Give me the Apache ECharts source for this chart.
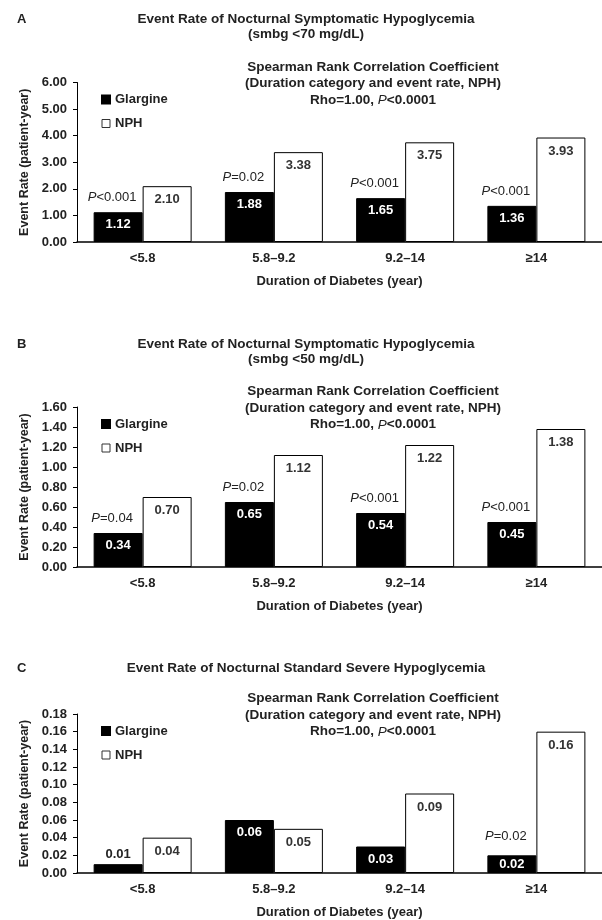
<!DOCTYPE html>
<html>
<head>
<meta charset="utf-8">
<title>Nocturnal hypoglycemia event rates by duration of diabetes</title>
<script src="https://cdn.jsdelivr.net/npm/echarts@6/dist/echarts.min.js"></script>
<style>
  html, body { margin: 0; padding: 0; background: #fff; }
  #chart { width: 602px; height: 920px; }
</style>
</head>
<body>
<div id="chart"></div>
<script>
// Duration-of-diabetes categories (years)
const categories = ['<5.8', '5.8–9.2', '9.2–14', '≥14'];

// Panel A: symptomatic, SMBG < 70 mg/dL (events per patient-year)
const glargineA = [1.12, 1.88, 1.65, 1.36];
const nphA = [2.10, 3.38, 3.75, 3.93];
const pValuesA = ['<0.001', '=0.02', '<0.001', '<0.001'];
const yTicksA = [0, 1, 2, 3, 4, 5, 6];

// Panel B: symptomatic, SMBG < 50 mg/dL
const glargineB = [0.34, 0.65, 0.54, 0.45];
const nphB = [0.70, 1.12, 1.22, 1.38];
const pValuesB = ['=0.04', '=0.02', '<0.001', '<0.001'];
const yTicksB = [0, 0.2, 0.4, 0.6, 0.8, 1.0, 1.2, 1.4, 1.6];

// Panel C: standard severe
const glargineC = [0.01, 0.06, 0.03, 0.02];
const nphC = [0.04, 0.05, 0.09, 0.16];
const pValuesC = [null, null, null, '=0.02'];
const yTicksC = [0, 0.02, 0.04, 0.06, 0.08, 0.10, 0.12, 0.14, 0.16, 0.18];

const FONT = 'Liberation Sans, Arial, Helvetica, sans-serif';
const spearmanText = 'Spearman Rank Correlation Coefficient\n(Duration category and event rate, NPH)\nRho=1.00, {i|P}<0.0001';

const panels = [
  { letter: 'A', title: 'Event Rate of Nocturnal Symptomatic Hypoglycemia\n(smbg <70 mg/dL)',
    top: 82.5, height: 159.5, glargine: glargineA, nph: nphA, p: pValuesA, ticks: yTicksA,
    titleTop: 12, glargineLabelPos: {}, pDistance: 8 },
  { letter: 'B', title: 'Event Rate of Nocturnal Symptomatic Hypoglycemia\n(smbg <50 mg/dL)',
    top: 407, height: 160, glargine: glargineB, nph: nphB, p: pValuesB, ticks: yTicksB,
    titleTop: 337, glargineLabelPos: {}, pDistance: 8 },
  { letter: 'C', title: 'Event Rate of Nocturnal Standard Severe Hypoglycemia',
    top: 714, height: 160, glargine: glargineC, nph: nphC, p: pValuesC, ticks: yTicksC,
    titleTop: 661, glargineLabelPos: { 0: 'top', 3: 'inside' }, pDistance: 12 }
];

const titles = [];
const grids = [];
const xAxes = [];
const yAxes = [];
const legends = [];
const series = [];

panels.forEach((pn, i) => {
  titles.push({
    text: pn.letter, left: 17, top: pn.titleTop, padding: 0,
    textStyle: { fontFamily: FONT, fontSize: 13, fontWeight: 'bold', color: '#222', lineHeight: 15 }
  });
  titles.push({
    text: pn.title, left: 306, top: pn.titleTop, padding: 0, textAlign: 'center',
    textStyle: { fontFamily: FONT, fontSize: 13.5, fontWeight: 'bold', color: '#222', lineHeight: 15 }
  });
  titles.push({
    text: spearmanText, left: 373, top: pn.top - 23.5, padding: 0, textAlign: 'center',
    textStyle: {
      fontFamily: FONT, fontSize: 13.5, fontWeight: 'bold', color: '#222', lineHeight: 16.5,
      rich: { i: { fontFamily: FONT, fontSize: 13.5, fontStyle: 'italic', fontWeight: 'normal', color: '#222', lineHeight: 16.5 } }
    }
  });

  grids.push({ left: 77, top: pn.top, width: 528, height: pn.height });

  xAxes.push({
    type: 'category', gridIndex: i, data: categories,
    axisLine: { lineStyle: { color: '#000', width: 1.5 } },
    axisTick: { show: false },
    axisLabel: { color: '#222', fontFamily: FONT, fontSize: 13, fontWeight: 'bold', margin: 9.5 },
    name: 'Duration of Diabetes (year)', nameLocation: 'middle', nameGap: 33,
    nameTextStyle: { color: '#222', fontFamily: FONT, fontSize: 13, fontWeight: 'bold' }
  });

  const t = pn.ticks;
  yAxes.push({
    type: 'value', gridIndex: i, min: t[0], max: t[t.length - 1], interval: t[1] - t[0],
    splitLine: { show: false },
    axisLine: { show: true, lineStyle: { color: '#000', width: 1 } },
    axisTick: { show: true, length: 4, lineStyle: { color: '#000' } },
    axisLabel: { color: '#222', fontFamily: FONT, fontSize: 13, fontWeight: 'bold', margin: 10,
      formatter: v => v.toFixed(2) },
    name: 'Event Rate (patient-year)', nameLocation: 'middle', nameGap: 39,
    nameTextStyle: { color: '#222', fontFamily: FONT, fontSize: 12.5, fontWeight: 'bold' }
  });

  legends.push({
    data: [
      { name: 'Glargine' },
      { name: 'NPH', itemStyle: { color: '#fff', borderColor: '#333', borderWidth: 1 } }
    ],
    orient: 'vertical', left: 101, top: pn.top + 10,
    itemWidth: 8, itemHeight: 8, itemGap: 10, padding: 0, selectedMode: false,
    icon: 'rect',
    textStyle: { color: '#222', fontFamily: FONT, fontSize: 13, fontWeight: 'bold', lineHeight: 14 }
  });

  series.push({
    name: 'Glargine', type: 'bar', xAxisIndex: i, yAxisIndex: i, stack: 'glargine' + i,
    barWidth: 49, barGap: '0%',
    itemStyle: { color: '#000', borderColor: '#000', borderWidth: 1 },
    label: {
      show: true, position: 'insideTop', distance: 6, color: '#fff',
      fontFamily: FONT, fontSize: 13, fontWeight: 'bold', formatter: d => d.value.toFixed(2)
    },
    data: pn.glargine.map((v, k) => {
      const pos = pn.glargineLabelPos[k];
      if (!pos) return v;
      return { value: v, label: { position: pos, distance: 3, color: pos === 'top' ? '#222' : '#fff' } };
    })
  });

  // zero-height carrier stacked on the glargine bar: holds the P-value text above it
  series.push({
    name: 'P value', type: 'bar', xAxisIndex: i, yAxisIndex: i, stack: 'glargine' + i,
    barWidth: 49, barGap: '0%', silent: true,
    itemStyle: { color: 'rgba(0,0,0,0)' },
    label: {
      show: true, position: 'top', distance: pn.pDistance, offset: [-6, 0], color: '#222',
      fontFamily: FONT, fontSize: 13, fontWeight: 'normal',
      formatter: d => '{i|P}' + d.name,
      rich: { i: { fontFamily: FONT, fontSize: 13, fontStyle: 'italic', color: '#222' } }
    },
    data: pn.p.map(txt => (txt ? { value: 0, name: txt } : '-'))
  });

  series.push({
    name: 'NPH', type: 'bar', xAxisIndex: i, yAxisIndex: i,
    barWidth: 49, barGap: '0%',
    itemStyle: { color: '#fff', borderColor: '#000', borderWidth: 1 },
    label: {
      show: true, position: 'insideTop', distance: 7, color: '#333',
      fontFamily: FONT, fontSize: 13, fontWeight: 'bold', formatter: d => d.value.toFixed(2)
    },
    data: pn.nph
  });
});

const chart = echarts.init(document.getElementById('chart'), null, { renderer: 'canvas' });
chart.setOption({
  backgroundColor: '#fff',
  animation: false,
  title: titles,
  legend: legends,
  grid: grids,
  xAxis: xAxes,
  yAxis: yAxes,
  series: series
});
</script>
</body>
</html>
